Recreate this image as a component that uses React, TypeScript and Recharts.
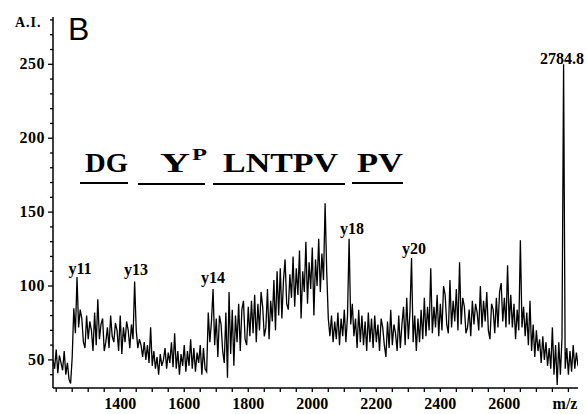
import { LineChart, Line, XAxis, YAxis } from 'recharts';

// m/z channel grid of the trace
const MZ_START = 1190;
const MZ_STEP = 5;

// intensity (A.I.), one value per channel
const INTENSITY = [
  50, 44,
  57, 41, 53, 48, 43, 56, 40, 48, 37, 34, 52, 85, 68, 106, 72, 84, 78, 62, 58, 80,
  64, 76, 70, 56, 82, 60, 91, 64, 74, 78, 56, 62, 72, 58, 80, 66, 62, 75, 70, 56,
  80, 54, 72, 62, 76, 70, 58, 74, 64, 103, 70, 58, 64, 60, 52, 62, 50, 60, 48, 72,
  46, 56, 44, 52, 40, 54, 46, 50, 58, 44, 55, 48, 62, 45, 68, 44, 56, 40, 54, 46,
  60, 42, 56, 46, 64, 44, 58, 42, 55, 48, 60, 40, 58, 44, 42, 82, 62, 76, 98, 60,
  78, 52, 80, 74, 56, 48, 82, 38, 96, 54, 84, 46, 80, 62, 88, 56, 84, 90, 64, 60,
  86, 66, 90, 68, 94, 62, 88, 70, 96, 86, 66, 72, 98, 64, 90, 76, 104, 70, 110, 80,
  112, 78, 104, 118, 88, 84, 108, 92, 120, 86, 112, 94, 124, 78, 110, 96, 130, 88, 116, 98,
  126, 80, 118, 100, 132, 96, 122, 104, 156, 110, 78, 66, 80, 62, 76, 64, 82, 60, 78, 66,
  84, 62, 80, 132, 74, 88, 66, 78, 58, 84, 62, 80, 60, 76, 56, 82, 62, 78, 58, 80,
  62, 74, 56, 78, 72, 60, 52, 76, 58, 84, 60, 74, 68, 56, 80, 58, 74, 86, 60, 92,
  64, 82, 119, 62, 80, 56, 78, 62, 84, 64, 92, 66, 86, 70, 112, 68, 86, 72, 94, 66,
  88, 70, 100, 94, 74, 68, 104, 72, 90, 76, 98, 70, 116, 74, 92, 86, 68, 72, 84, 66,
  90, 74, 88, 82, 70, 100, 72, 90, 76, 96, 70, 64, 88, 84, 68, 92, 72, 96, 102, 76,
  92, 72, 114, 74, 94, 72, 88, 64, 84, 70, 131, 72, 86, 66, 82, 60, 90, 56, 74, 52,
  70, 56, 64, 48, 66, 50, 62, 46, 58, 44, 72, 40, 60, 33, 62, 40, 65, 250, 44, 58,
  40, 56, 42, 60, 44, 55, 46,
];

const X_LABELS = [1400, 1600, 1800, 2000, 2200, 2400, 2600];
const X_TICKS = [
  1200, 1250, 1300, 1350, 1400, 1450, 1500, 1550, 1600, 1650, 1700, 1750, 1800,
  1850, 1900, 1950, 2000, 2050, 2100, 2150, 2200, 2250, 2300, 2350, 2400, 2450,
  2500, 2550, 2600, 2650, 2700, 2750, 2800,
];
const Y_LABELS = [50, 100, 150, 200, 250];
const Y_TICKS = [
  40, 50, 60, 70, 80, 90, 100, 110, 120, 130, 140, 150, 160, 170, 180, 190, 200,
  210, 220, 230, 240, 250, 260, 270, 280,
];

const data = INTENSITY.map((v, i) => ({ mz: MZ_START + i * MZ_STEP, ai: v }));

const SERIF = '"Liberation Serif", "Times New Roman", Times, serif';

function XTick({ x, y, payload }: any) {
  const v = payload.value;
  return (
    <g>
      <line x1={x} x2={x} y1={y} y2={y + 4} stroke="#000" strokeWidth={1.3} />
      {X_LABELS.includes(v) && (
        <text x={x} y={y + 21} textAnchor="middle" style={{ fontFamily: SERIF }} fontWeight="bold" fontSize={16} fill="#000">
          {v}
        </text>
      )}
    </g>
  );
}

function YTick({ x, y, payload }: any) {
  const v = payload.value;
  const major = Y_LABELS.includes(v);
  return (
    <g>
      <line x1={x - (major ? 5 : 3)} x2={x} y1={y} y2={y} stroke="#000" strokeWidth={1.3} />
      {major && (
        <text x={x - 8} y={y + 5} textAnchor="end" style={{ fontFamily: SERIF }} letterSpacing={0.5} fontWeight="bold" fontSize={16} fill="#000">
          {v}
        </text>
      )}
    </g>
  );
}

const bold = { style: { fontFamily: SERIF }, fontWeight: 'bold' as const, fill: '#000' };
const seq = { ...bold, fontSize: 27, lengthAdjust: 'spacingAndGlyphs' as const };

export default function App() {
  return (
    <div style={{ position: 'absolute', left: 0, top: 0, width: 587, height: 414, background: '#fff' }}>
      <LineChart width={587} height={414} data={data} margin={{ top: 17, right: 9, bottom: 0, left: 0 }}>
        <XAxis
          dataKey="mz"
          type="number"
          domain={[1190, 2830]}
          ticks={X_TICKS}
          interval={0}
          tick={<XTick />}
          tickLine={false}
          tickSize={0}
          tickMargin={0}
          height={26}
          axisLine={{ stroke: '#000', strokeWidth: 1.5 }}
          allowDataOverflow
        />
        <YAxis
          type="number"
          domain={[31, 282]}
          ticks={Y_TICKS}
          interval={0}
          tick={<YTick />}
          tickLine={false}
          tickSize={0}
          tickMargin={0}
          width={53}
          axisLine={{ stroke: '#000', strokeWidth: 1.5 }}
          allowDataOverflow
        />
        <Line
          dataKey="ai"
          type="linear"
          stroke="#000"
          strokeWidth={1.3}
          dot={false}
          isAnimationActive={false}
        />
      </LineChart>
      <svg width={587} height={414} style={{ position: 'absolute', left: 0, top: 0, pointerEvents: 'none' }}>
        <text x={15} y={27} fontSize={14} letterSpacing={1} {...bold}>A.I.</text>
        <text x={68} y={40} fontSize={32} fontFamily='"Liberation Sans", Arial, sans-serif' fill="#000">B</text>
        <text x={562} y={64} fontSize={16} textAnchor="middle" {...bold}>2784.8</text>
        <text x={80} y={274} fontSize={16} textAnchor="middle" {...bold}>y11</text>
        <text x={136} y={275} fontSize={16} textAnchor="middle" {...bold}>y13</text>
        <text x={213} y={283} fontSize={16} textAnchor="middle" {...bold}>y14</text>
        <text x={352} y={234} fontSize={16} textAnchor="middle" {...bold}>y18</text>
        <text x={414} y={254} fontSize={16} textAnchor="middle" {...bold}>y20</text>
        <text x={565} y={409} fontSize={16} textAnchor="middle" {...bold}>m/z</text>

        <text x={85} y={172} textLength={43} {...seq}>DG</text>
        <text x={160} y={172} textLength={30} {...seq}>Y</text>
        <text x={192} y={160} fontSize={17} textLength={15} lengthAdjust="spacingAndGlyphs" {...bold}>P</text>
        <text x={223} y={172} textLength={115} {...seq}>LNTPV</text>
        <text x={357} y={172} textLength={46} {...seq}>PV</text>
        <line x1={80} x2={128} y1={183} y2={183} stroke="#000" strokeWidth={2} />
        <line x1={138} x2={205} y1={184} y2={184} stroke="#000" strokeWidth={2} />
        <line x1={213} x2={345} y1={184} y2={184} stroke="#000" strokeWidth={2} />
        <line x1={352} x2={403} y1={183} y2={183} stroke="#000" strokeWidth={2} />
      </svg>
    </div>
  );
}
